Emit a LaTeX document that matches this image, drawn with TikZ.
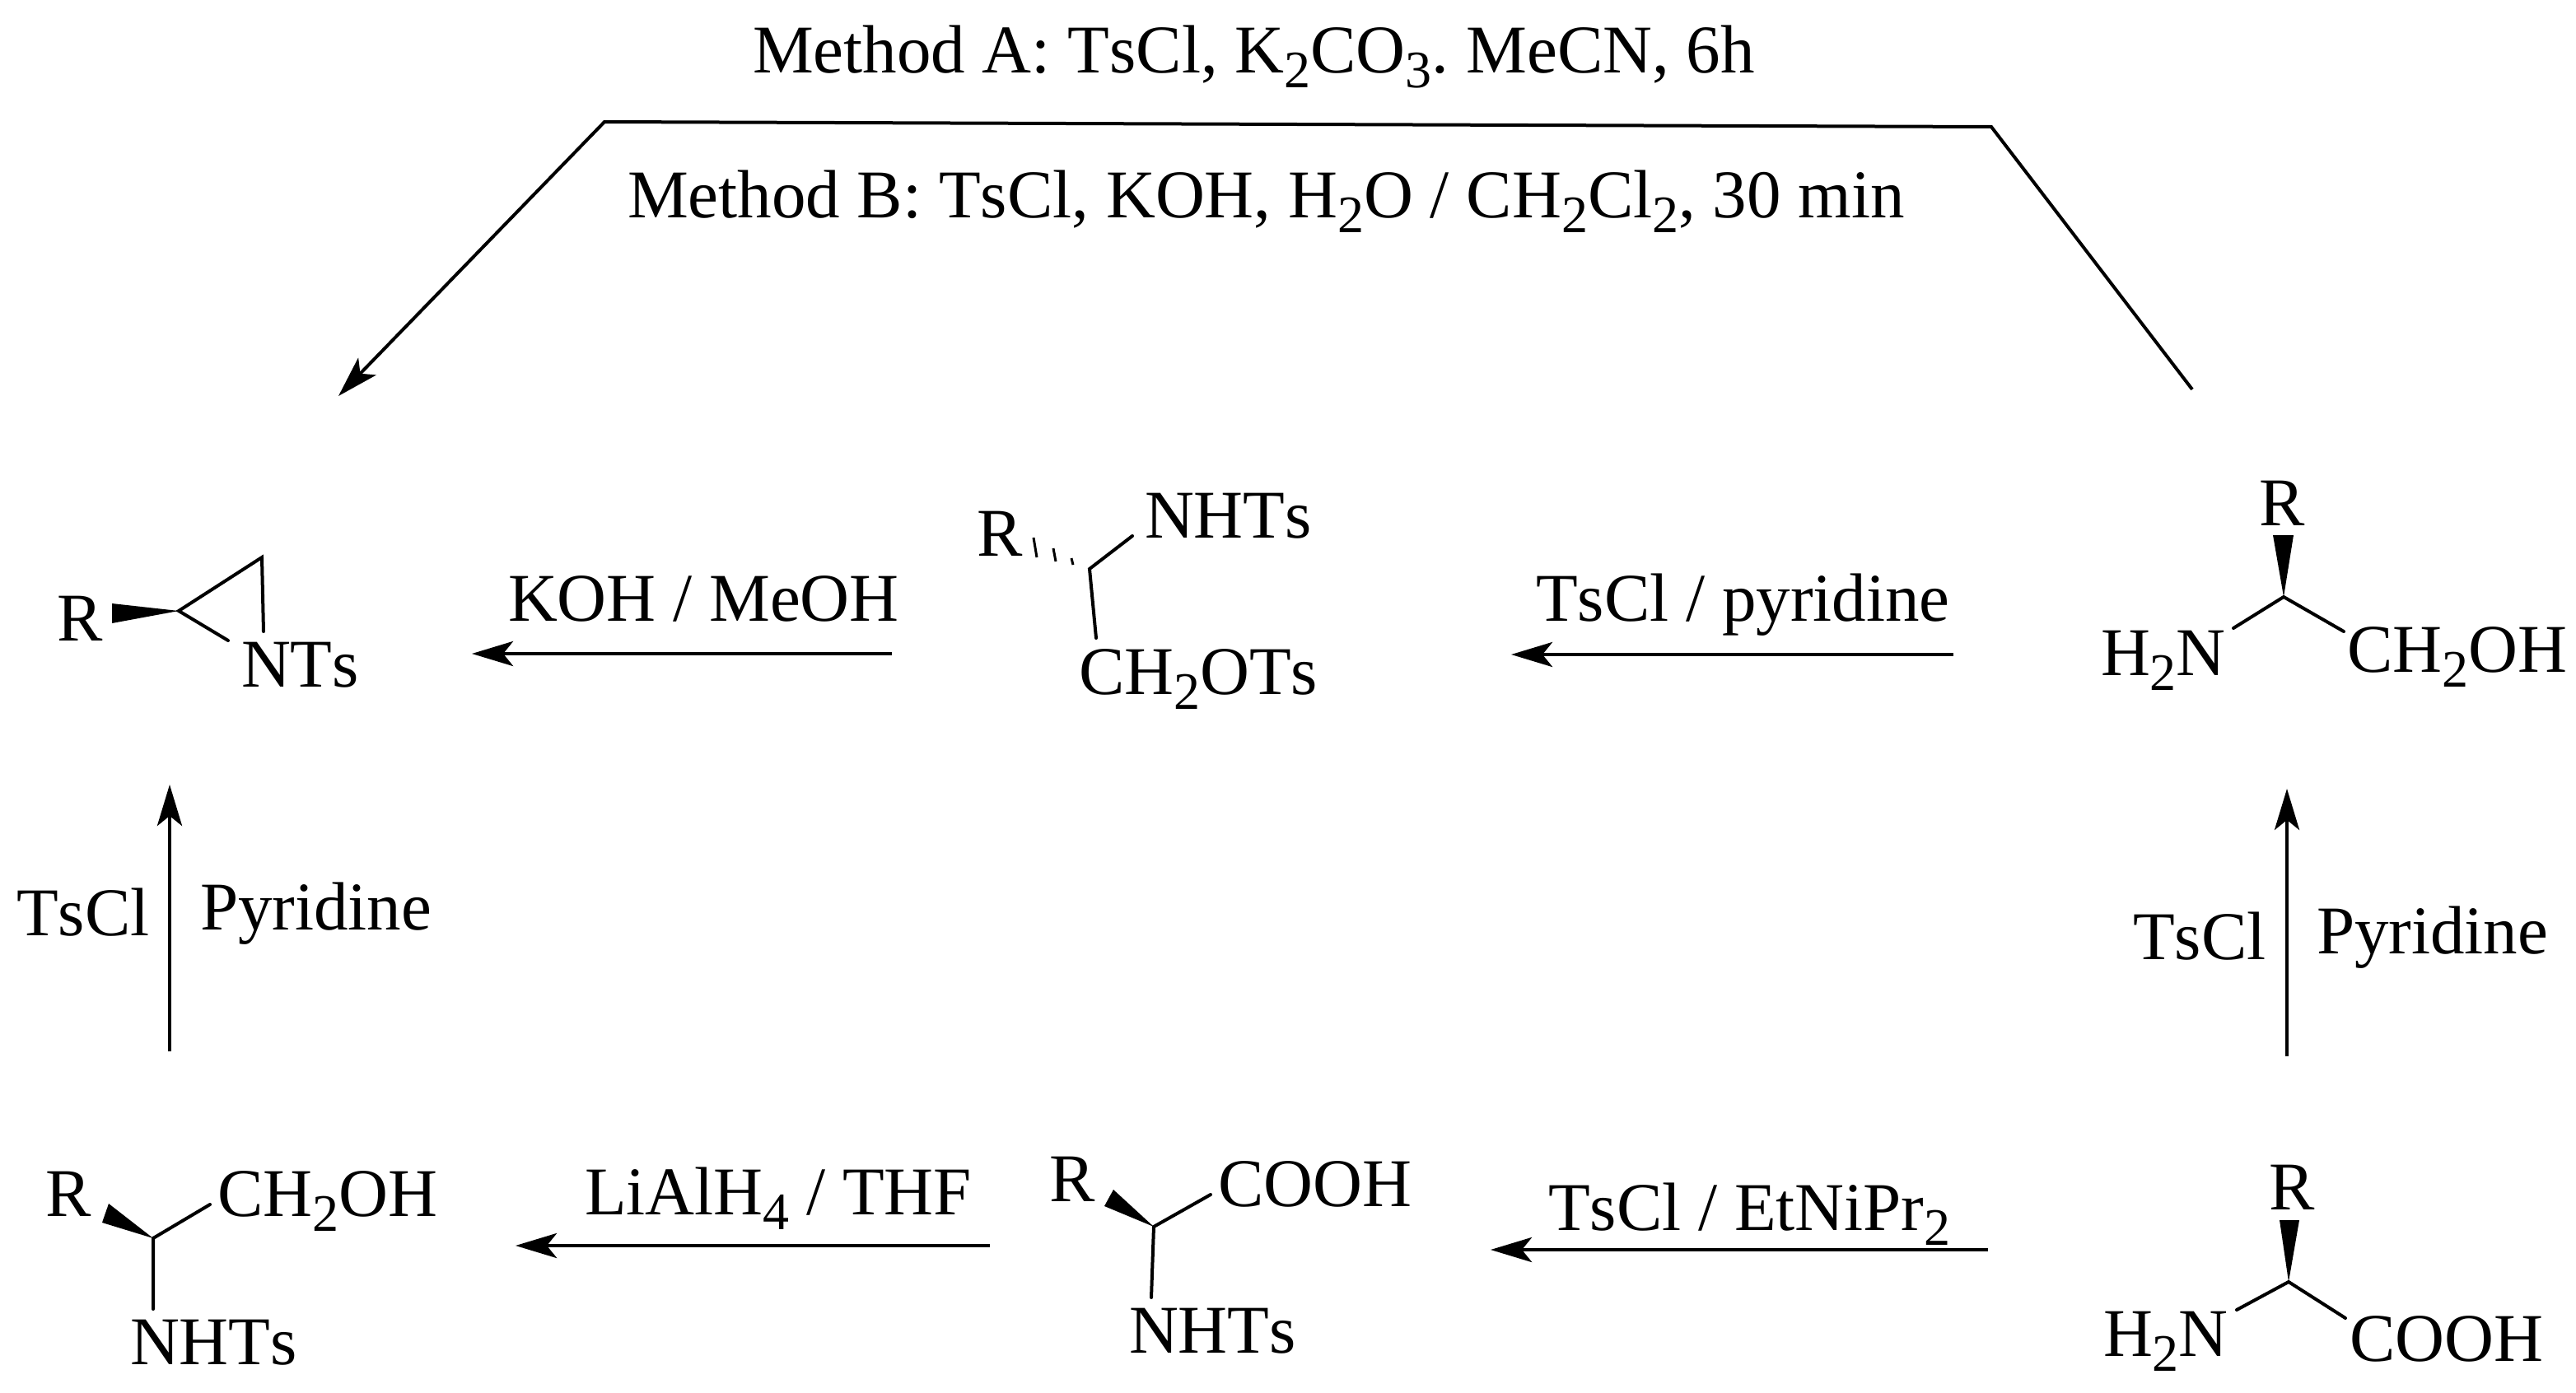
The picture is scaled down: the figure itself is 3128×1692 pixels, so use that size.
\documentclass[tikz,border=0pt]{standalone}
\usepackage{fontspec}
\setmainfont[Kerning=Off]{Liberation Serif}
\usetikzlibrary{arrows.meta}
\newcommand{\sbs}[1]{\raisebox{-0.22em}{\fontsize{32}{32}\selectfont #1}}
\tikzset{
  x=0.5pt,y=-0.5pt,
  lbl/.style={inner sep=0pt,outer sep=0pt,anchor=base west,font=\fontsize{41.5}{44}\selectfont},
  bond/.style={line width=2pt,line cap=round},
  rxn/.style={line width=2.4pt,-{Stealth[length=25pt,width=15pt,inset=6pt]}},
  wedge/.style={fill=black,draw=none},
  hash/.style={line width=1.5pt}
}
\begin{document}
\begin{tikzpicture}
\useasboundingbox (0,0) rectangle (3128,1692);
% top
\node[lbl] (mA) at (914,88) {Method A: TsCl, K\sbs{2}CO\sbs{3}.\ MeCN, 6h};
\node[lbl] (mB) at (762,264) {Method B: TsCl, KOH, H\sbs{2}O / CH\sbs{2}Cl\sbs{2}, 30 min};
\coordinate (t1) at (2662,473); \coordinate (t2) at (2418,154);
\coordinate (t3) at (734,148); \coordinate (t4) at (411,481);
\draw[rxn,line width=2pt] (t1) -- (t2) -- (t3) -- (t4);
% aziridine
\node[lbl] (azR) at (69,778) {R};
\node[lbl] (azN) at (293,834) {NTs};
\coordinate (azC) at (217,742); \coordinate (azT) at (318,677); \coordinate (azB) at (320,767);
\coordinate (azW1) at (136,733); \coordinate (azW2) at (136,757); \coordinate (azNb) at (277,778);
\fill[wedge] (azC) -- (azW1) -- (azW2) -- cycle;
\draw[bond] (azNb) -- (azC) -- (azT) -- (azB);
% KOH arrow
\coordinate (a1s) at (1083,794); \coordinate (a1e) at (573,794);
\draw[rxn] (a1s) -- (a1e);
\node[lbl] (l1) at (617,754) {KOH / MeOH};
% middle top
\node[lbl] (mR) at (1186,675) {R};
\node[lbl] (mN) at (1390,653) {NHTs};
\node[lbl] (mO) at (1310,843) {CH\sbs{2}OTs};
\coordinate (mC) at (1323,691); \coordinate (mC1) at (1375,651); \coordinate (mC2) at (1331,775);
\draw[bond] (mC1) -- (mC) -- (mC2);
\coordinate (h1a) at (1255,653); \coordinate (h1b) at (1259,677);
\coordinate (h2a) at (1279,666); \coordinate (h2b) at (1282,682);
\coordinate (h3a) at (1301,678); \coordinate (h3b) at (1303,686);
\draw[hash] (h1a) -- (h1b) (h2a) -- (h2b) (h3a) -- (h3b);
% arrow
\coordinate (a2s) at (2372,795); \coordinate (a2e) at (1835,795);
\draw[rxn] (a2s) -- (a2e);
\node[lbl] (l2) at (1865,754) {TsCl / pyridine};
% right top
\node[lbl] (rR) at (2743,638) {R};
\node[lbl] (rN) at (2551,820) {H\sbs{2}N};
\node[lbl] (rO) at (2850,816) {CH\sbs{2}OH};
\coordinate (rC) at (2773,725); \coordinate (rW1) at (2760,650); \coordinate (rW2) at (2785,650);
\coordinate (rL) at (2712,763); \coordinate (rRt) at (2846,767);
\fill[wedge] (rC) -- (rW1) -- (rW2) -- cycle;
\draw[bond] (rL) -- (rC) -- (rRt);
% vertical arrows
\coordinate (a3s) at (2777,1283); \coordinate (a3e) at (2777,958);
\draw[rxn] (a3s) -- (a3e);
\node[lbl] (l3a) at (2590,1165) {TsCl};
\node[lbl] (l3b) at (2813,1158) {Pyridine};
\coordinate (a4s) at (206,1277); \coordinate (a4e) at (206,953);
\draw[rxn] (a4s) -- (a4e);
\node[lbl] (l4a) at (20,1136) {TsCl};
\node[lbl] (l4b) at (243,1129) {Pyridine};
% bottom left
\node[lbl] (bR) at (55,1477) {R};
\node[lbl] (bO) at (264,1477) {CH\sbs{2}OH};
\node[lbl] (bN) at (158,1657) {NHTs};
\coordinate (bC) at (186,1504); \coordinate (bW1) at (132,1462); \coordinate (bW2) at (124,1485);
\coordinate (bU) at (255,1463); \coordinate (bD) at (186,1590);
\fill[wedge] (bC) -- (bW1) -- (bW2) -- cycle;
\draw[bond] (bU) -- (bC) -- (bD);
\coordinate (a5s) at (1202,1513); \coordinate (a5e) at (626,1513);
\draw[rxn] (a5s) -- (a5e);
\node[lbl] (l5) at (710,1475) {LiAlH\sbs{4} / THF};
% bottom middle
\node[lbl] (cR) at (1274,1459) {R};
\node[lbl] (cO) at (1479,1465) {COOH};
\node[lbl] (cN) at (1371,1643) {NHTs};
\coordinate (cC) at (1401,1490); \coordinate (cW1) at (1352,1445); \coordinate (cW2) at (1341,1465);
\coordinate (cU) at (1470,1451); \coordinate (cD) at (1398,1576);
\fill[wedge] (cC) -- (cW1) -- (cW2) -- cycle;
\draw[bond] (cU) -- (cC) -- (cD);
\coordinate (a6s) at (2414,1518); \coordinate (a6e) at (1810,1518);
\draw[rxn] (a6s) -- (a6e);
\node[lbl] (l6) at (1880,1494) {TsCl / EtNiPr\sbs{2}};
% bottom right
\node[lbl] (dR) at (2755,1469) {R};
\node[lbl] (dN) at (2554,1647) {H\sbs{2}N};
\node[lbl] (dO) at (2853,1653) {COOH};
\coordinate (dC) at (2779,1557); \coordinate (dW1) at (2768,1482); \coordinate (dW2) at (2792,1482);
\coordinate (dL) at (2716,1591); \coordinate (dRt) at (2848,1601);
\fill[wedge] (dC) -- (dW1) -- (dW2) -- cycle;
\draw[bond] (dL) -- (dC) -- (dRt);
\end{tikzpicture}
\end{document}
